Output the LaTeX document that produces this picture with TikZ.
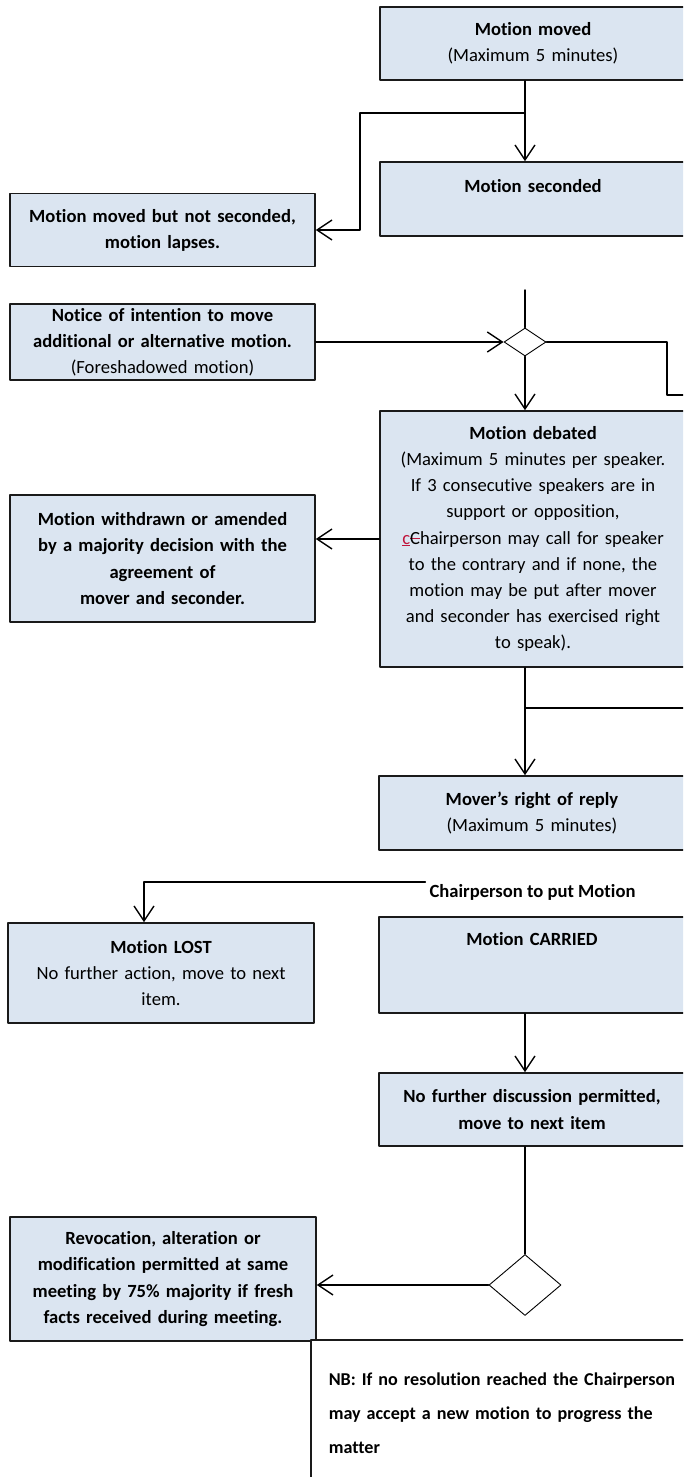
\documentclass[tikz,border=0pt]{standalone}
\usepackage{fontspec}
\setmainfont{Carlito}[Ligatures=NoCommon]
\usetikzlibrary{arrows.meta,shapes.geometric}

\definecolor{boxblue}{HTML}{DBE5F1}
\definecolor{boxline}{HTML}{1A1A1A}
\definecolor{trackred}{HTML}{C0143C}

\newsavebox{\strikebox}
\newcommand{\redsout}[1]{\sbox{\strikebox}{#1}\rlap{\textcolor{trackred}{\rule[0.55ex]{\wd\strikebox}{0.9pt}}}\usebox{\strikebox}}

\tikzset{
    stepbox/.style={rectangle, draw=boxline, line width=1.6pt, fill=boxblue, align=center,
        font=\fontsize{18.6}{26.1}\selectfont, inner sep=4pt},
    rightbox/.style={stepbox, text width=292pt, minimum width=306pt},
    leftbox/.style={stepbox, text width=290pt, minimum width=305pt},
    flow/.style={line width=1.4pt, -{Straight Barb[length=15pt,width=20pt,line width=1.4pt]}},
    link/.style={line width=1.4pt},
    choice/.style={diamond, draw, line width=0.9pt, fill=white, inner sep=0pt}
}

\begin{document}
\begin{tikzpicture}[line cap=round, line join=round, x=1pt, y=-1pt]

                \path[use as bounding box] (0,0) rectangle (683,1477);
                \clip (0,0) rectangle (683,1477);
                \fill[white] (0,0) rectangle (683,1477);

                \coordinate (spine) at (525,0);

                \node[rightbox, minimum height=73pt] (moved) at (533,43.5) {\textbf{Motion moved}\\(Maximum 5 minutes)};
                \node[rightbox, minimum height=74pt] (seconded) at (533,199) {\textbf{Motion seconded}\\ \mbox{}};
                \node[leftbox, minimum height=73pt] (lapsed) at (162.5,230) {\textbf{Motion moved but not seconded,}\\\textbf{motion lapses.}};

                \node[leftbox, minimum height=76pt] (notice) at (162.5,342) {\textbf{Notice of intention to move}\\\textbf{additional or alternative motion.}\\(Foreshadowed motion)};
                \node[choice, minimum width=42pt, minimum height=28pt] (d1) at (525,342) {};

                \node[rightbox, minimum height=256pt] (debated) at (533,539) {\textbf{Motion debated}\\(Maximum 5 minutes per speaker.\\If 3 consecutive speakers are in\\support or opposition,\\{\color{trackred}\underline{c}}\redsout{C}hairperson may call for speaker\\to the contrary and if none, the\\motion may be put after mover\\and seconder has exercised right\\to speak).};
                \node[leftbox, minimum height=127pt] (withdrawn) at (162.5,558.5) {\textbf{Motion withdrawn or amended}\\\textbf{by a majority decision with the}\\\textbf{agreement of}\\\textbf{mover and seconder.}};

                \node[rightbox, minimum height=74pt] (mover) at (532,813) {\textbf{Mover’s right of reply}\\(Maximum 5 minutes)};

                \node[font=\bfseries\fontsize{18.6}{22}\selectfont, inner sep=4pt] (put) at (532.5,892) {Chairperson to put Motion};
                \node[leftbox, minimum width=306pt, minimum height=100pt] (lost) at (161,973) {\textbf{Motion LOST}\\No further action, move to next\\item.};
                \node[rightbox, minimum height=96pt] (carried) at (532,965) {\textbf{Motion CARRIED}\\ \mbox{}\\ \mbox{}};

                \node[rightbox, minimum height=73pt] (nfd) at (532,1109.5) {\textbf{No further discussion permitted,}\\\textbf{move to next item}};

                \node[leftbox, minimum width=306pt, minimum height=124pt] (revoc) at (163,1279) {\textbf{Revocation, alteration or}\\\textbf{modification permitted at same}\\\textbf{meeting by 75\% majority if fresh}\\\textbf{facts received during meeting.}};
                \node[choice, minimum width=72pt, minimum height=61pt] (d2) at (525,1285) {};

                \node[rectangle, draw=boxline, line width=1.6pt, fill=white, anchor=north west, align=left,
                      text width=380pt, inner xsep=18pt, inner ysep=33pt,
                      font=\bfseries\fontsize{18.1}{34.2}\selectfont] (nb) at (310,1339)
                      {NB: If no resolution reached the Chairperson\\may accept a new motion to progress the\\matter};

                % top part
                \draw[flow] (moved.south -| spine) -- (seconded.north -| spine);
                \coordinate (split1) at (525,113);
                \coordinate (bend1) at (360,113);
                \draw[flow] (split1) -- (bend1) |- (lapsed.east);

                \coordinate (feed) at (525,290);
                \draw[link] (feed) -- (d1.north);
                \draw[flow] (notice.east) -- (d1.west);
                \draw[flow] (d1.south) -- (debated.north -| d1.south);
                \coordinate (bend2) at (667,395);
                \coordinate (exit1) at (700,395);
                \draw[link] (d1.east) -| (bend2) -- (exit1);

                % debate
                \draw[flow] (debated.west) -- (debated.west -| withdrawn.east);
                \draw[flow] (debated.south -| spine) -- (mover.north -| spine);
                \coordinate (split2) at (525,708);
                \coordinate (exit2) at (700,708);
                \draw[link] (split2) -- (exit2);

                % vote
                \coordinate (bend3) at (144,882);
                \draw[flow] ([yshift=10pt]put.west) -- (bend3) -- (bend3 |- lost.north);
                \draw[flow] (carried.south -| spine) -- (nfd.north -| spine);
                \draw[link] (nfd.south -| spine) -- (d2.north);
                \draw[flow] (d2.west) -- (d2.west -| revoc.east);

\end{tikzpicture}
\end{document}
